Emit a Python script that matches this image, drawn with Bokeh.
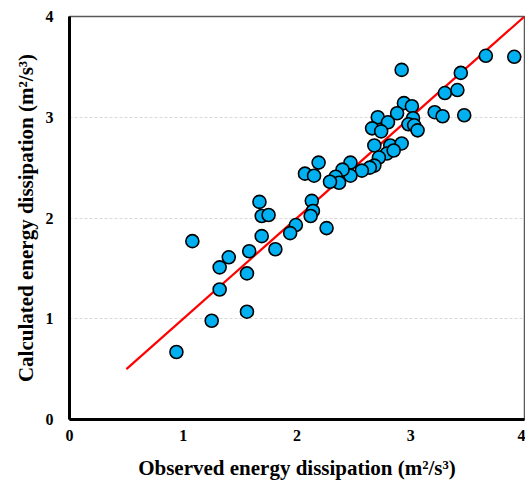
from bokeh.plotting import figure
from bokeh.models import ColumnDataSource, FixedTicker, Range1d
from bokeh.embed import file_html
from bokeh.resources import INLINE

observed = [3.66, 3.91, 2.92, 3.44, 3.30, 3.41, 2.94, 3.01, 2.88, 3.21, 3.28, 3.47,
            2.71, 2.80, 3.02, 2.98, 3.03, 3.06, 2.66, 2.74, 2.68, 2.82, 2.92, 2.79,
            2.85, 2.72, 2.68, 2.64, 2.57, 2.47, 2.47, 2.40, 2.34, 2.37, 2.29, 2.19,
            2.07, 2.15, 2.13, 2.14, 2.12, 1.99, 2.26, 1.67, 1.69, 1.75, 1.94, 1.08,
            1.69, 1.81, 1.58, 1.40, 1.32, 1.56, 1.32, 1.56, 1.25, 0.94]
calculated = [3.61, 3.60, 3.47, 3.44, 3.24, 3.27, 3.14, 3.11, 3.04, 3.05, 3.01, 3.02,
              3.00, 2.95, 2.99, 2.93, 2.92, 2.87, 2.89, 2.86, 2.72, 2.72, 2.74, 2.64,
              2.67, 2.60, 2.52, 2.50, 2.47, 2.55, 2.42, 2.48, 2.41, 2.35, 2.36, 2.55,
              2.44, 2.42, 2.17, 2.07, 2.02, 1.93, 1.90, 2.16, 2.02, 2.03, 1.85, 1.77,
              1.82, 1.69, 1.67, 1.61, 1.51, 1.45, 1.29, 1.07, 0.98, 0.67]
line_x = [0.5, 4.0]
line_y = [0.5, 4.0]
ticks = [0, 1, 2, 3, 4]

FONT = "Liberation Serif"

p = figure(width=525, height=485, output_backend="svg", toolbar_location=None,
           x_range=Range1d(0, 4), y_range=Range1d(0, 4),
           min_border_left=69, min_border_top=16, min_border_right=1, min_border_bottom=66)

p.xgrid.grid_line_color = None
p.ygrid.grid_line_color = "#d9d9d9"
p.ygrid.grid_line_dash = "3 2"
p.ygrid.grid_line_width = 1

p.outline_line_color = "#595959"
p.outline_line_width = 1.5

for ax in (p.xaxis[0], p.yaxis[0]):
    ax.ticker = FixedTicker(ticks=ticks)
    ax.axis_line_color = "black"
    ax.axis_line_width = 3
    ax.major_tick_line_color = None
    ax.minor_tick_line_color = None
    ax.major_label_text_font = FONT
    ax.major_label_text_font_style = "bold"
    ax.major_label_text_font_size = "16px"
    ax.major_label_text_color = "black"
    ax.axis_label_text_font = FONT
    ax.axis_label_text_font_style = "bold"
    ax.axis_label_text_font_size = "21px"
    ax.axis_label_text_color = "black"

p.xaxis.axis_label = "Observed energy dissipation (m\u00b2/s\u00b3)"
p.yaxis.axis_label = "Calculated energy dissipation (m\u00b2/s\u00b3)"
p.xaxis.major_label_standoff = 4
p.yaxis.major_label_standoff = 10
p.xaxis.axis_label_standoff = 12
p.yaxis.axis_label_standoff = 5

p.line(line_x, line_y, line_color="#ff0000", line_width=2.2)

src = ColumnDataSource(dict(x=observed, y=calculated))
p.scatter("x", "y", source=src, size=13, marker="circle",
          fill_color="#00b0f0", line_color="black", line_width=1.6)

open("out.html", "w").write(file_html(p, INLINE))
